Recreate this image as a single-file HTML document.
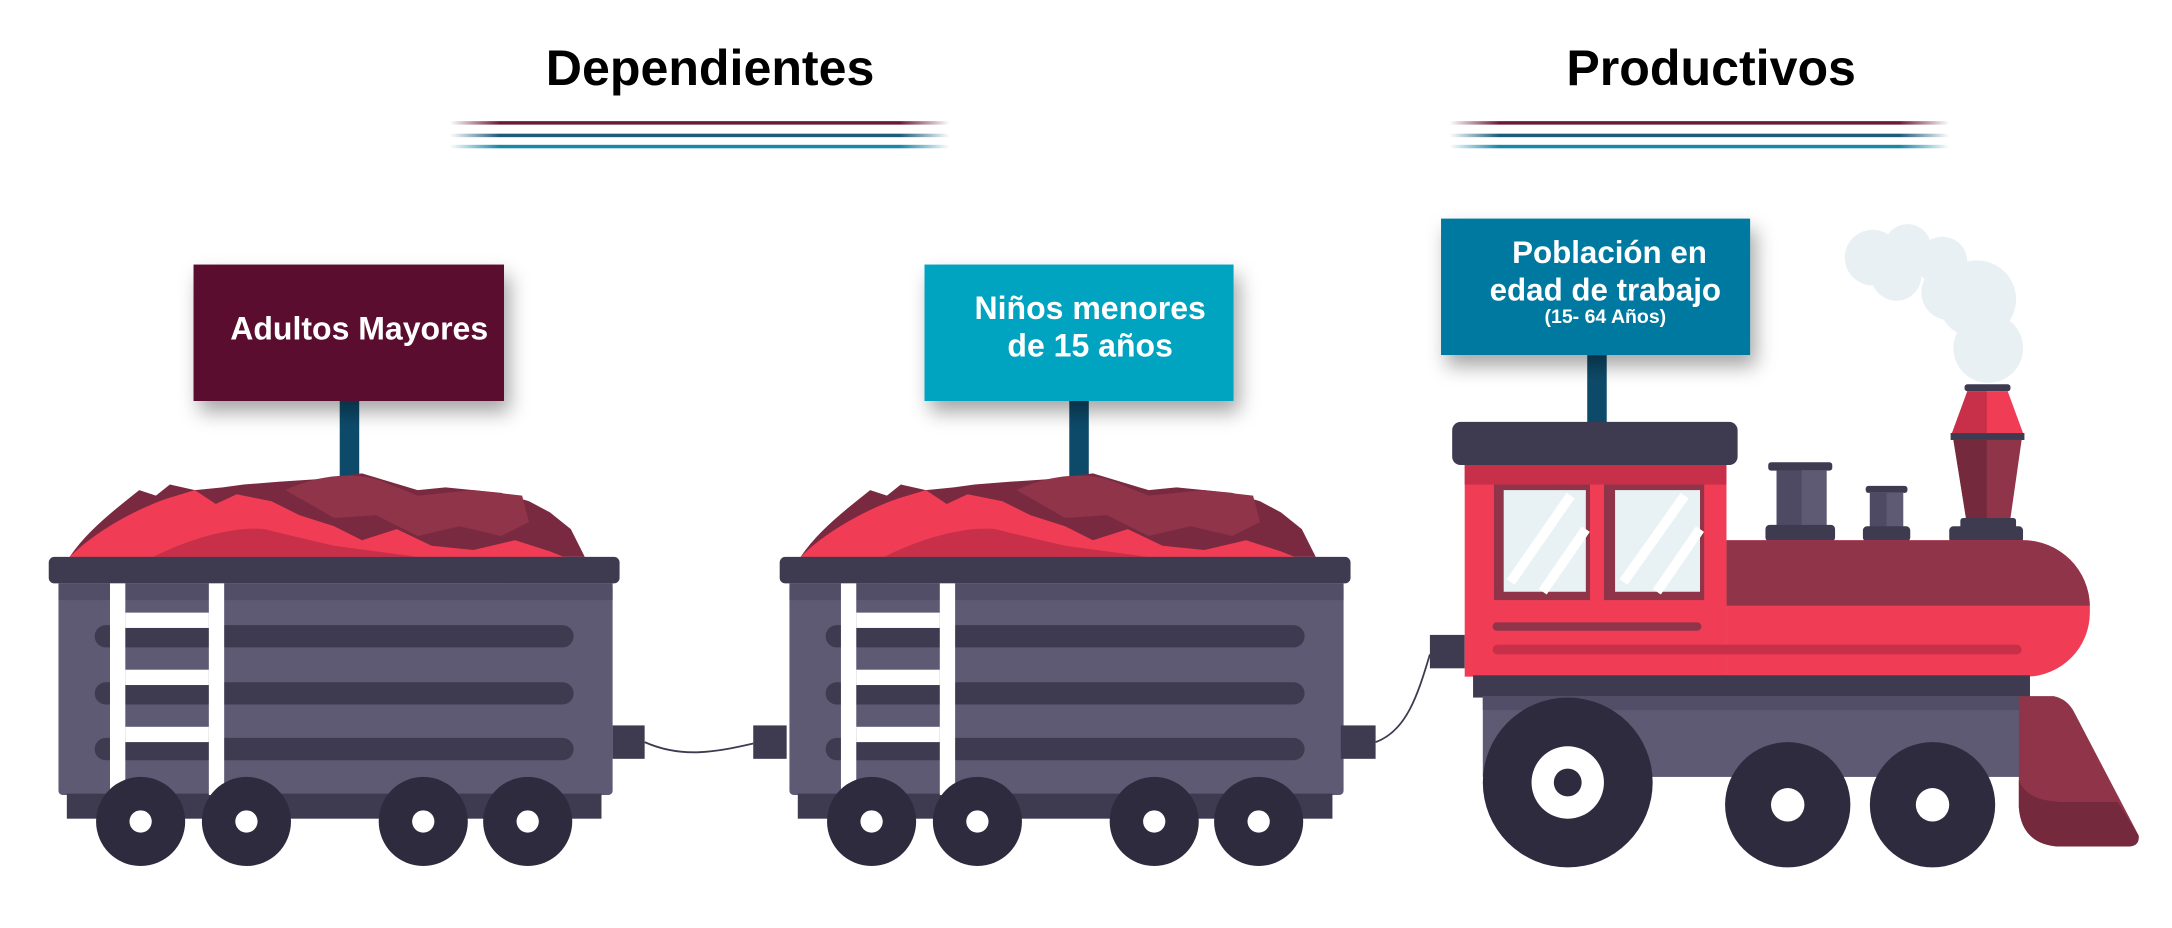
<!DOCTYPE html>
<html><head><meta charset="utf-8"><style>
html,body{margin:0;padding:0;background:#fff;width:2172px;height:928px;overflow:hidden}
svg{display:block}
text{font-family:"Liberation Sans","DejaVu Sans",sans-serif;font-weight:bold}
</style></head><body>
<svg width="2172" height="928" viewBox="0 0 1560 666.5" xmlns="http://www.w3.org/2000/svg">
<defs>
<filter id="sh" x="-20%" y="-20%" width="150%" height="160%"><feDropShadow dx="4" dy="8" stdDeviation="7" flood-color="#000" flood-opacity="0.35"/></filter>
<linearGradient id="g1" x1="0" x2="1"><stop offset="0" stop-color="#6b1a35" stop-opacity="0"/><stop offset="0.1" stop-color="#6b1a35"/><stop offset="0.9" stop-color="#6b1a35"/><stop offset="1" stop-color="#6b1a35" stop-opacity="0"/></linearGradient>
<linearGradient id="g2" x1="0" x2="1"><stop offset="0" stop-color="#1e5a7a" stop-opacity="0"/><stop offset="0.1" stop-color="#1e5a7a"/><stop offset="0.9" stop-color="#1e5a7a"/><stop offset="1" stop-color="#1e5a7a" stop-opacity="0"/></linearGradient>
<linearGradient id="g3" x1="0" x2="1"><stop offset="0" stop-color="#1a86a8" stop-opacity="0"/><stop offset="0.1" stop-color="#1a86a8"/><stop offset="0.9" stop-color="#1a86a8"/><stop offset="1" stop-color="#1a86a8" stop-opacity="0"/></linearGradient>
<g id="lines">
<rect x="0" y="87" width="359" height="2.5" fill="url(#g1)"/>
<rect x="0" y="96" width="359" height="2.5" fill="url(#g2)"/>
<rect x="0" y="104" width="359" height="2.5" fill="url(#g3)"/>
</g>
<g id="wagon">
<path d="M50,400 C60,385 75,372 90,360 L100,352 L112,356 L122,348 L140,352 L160,350 L175,348 L200,346 L230,344 L260,340 L280,346 L300,352 L320,350 L360,354 L380,360 L395,368 L410,380 L420,400 Z" fill="#7a2a40"/>
<path d="M205,352 C230,340 260,338 280,348 L300,356 L340,352 L375,356 L380,375 L360,385 L330,378 L300,385 L270,370 L240,372 Z" fill="#8f3449"/>
<path d="M50,400 C70,380 100,365 120,358 L140,352 L155,362 L170,355 L195,360 L215,370 L240,378 L260,388 L285,380 L310,392 L340,395 L370,388 L395,396 L405,400 Z" fill="#f03c55"/>
<path d="M110,400 C140,385 170,378 190,380 L210,385 L240,392 L270,396 L300,400 Z" fill="#c8304a"/>
<rect x="35" y="400" width="410" height="19" rx="4" fill="#3e3a50"/>
<rect x="42" y="419" width="398" height="152" rx="3" fill="#5e5a74"/>
<rect x="42" y="419" width="398" height="12" fill="#524e68"/>
<rect x="68" y="449" width="344" height="16" rx="8" fill="#3e3a50"/>
<rect x="68" y="490" width="344" height="16" rx="8" fill="#3e3a50"/>
<rect x="68" y="530" width="344" height="16" rx="8" fill="#3e3a50"/>
<rect x="48" y="570" width="384" height="18" fill="#3e3a50"/>
<rect x="79" y="419" width="11" height="152" fill="#fff"/>
<rect x="150" y="419" width="11" height="152" fill="#fff"/>
<rect x="90" y="440" width="60" height="11" fill="#fff"/>
<rect x="90" y="481" width="60" height="11" fill="#fff"/>
<rect x="90" y="522" width="60" height="11" fill="#fff"/>
<g fill="#2e2b3e"><circle cx="101" cy="590" r="32"/><circle cx="177" cy="590" r="32"/><circle cx="304" cy="590" r="32"/><circle cx="379" cy="590" r="32"/></g>
<g fill="#fff"><circle cx="101" cy="590" r="8"/><circle cx="177" cy="590" r="8"/><circle cx="304" cy="590" r="8"/><circle cx="379" cy="590" r="8"/></g>
</g>
</defs>
<rect width="1560" height="666.5" fill="#fff"/>
<text x="510" y="61" font-size="36" text-anchor="middle" fill="#000">Dependientes</text>
<text x="1229" y="61" font-size="36" text-anchor="middle" fill="#000">Productivos</text>
<use href="#lines" x="323"/>
<use href="#lines" x="1041"/>

<rect x="244" y="288" width="14" height="58" fill="#0d4a6a"/>
<rect x="768" y="288" width="14" height="58" fill="#0d4a6a"/>
<rect x="1140" y="255" width="14" height="50" fill="#0d4a6a"/>

<use href="#wagon"/>
<use href="#wagon" x="525"/>

<rect x="440" y="521" width="23" height="24" fill="#3e3a50"/>
<rect x="541" y="521" width="24" height="24" fill="#3e3a50"/>
<path d="M463,533 C490,545 515,540 541,534" stroke="#3e3a50" stroke-width="1.3" fill="none"/>
<rect x="963" y="521" width="25" height="24" fill="#3e3a50"/>
<rect x="1027" y="456" width="25" height="24" fill="#3e3a50"/>
<path d="M988,533 C1010,525 1018,500 1027,470" stroke="#3e3a50" stroke-width="1.3" fill="none"/>

<g fill="#e8f0f3">
<circle cx="1345" cy="185" r="20"/><circle cx="1370" cy="178" r="17"/><circle cx="1395" cy="188" r="18"/>
<circle cx="1362" cy="198" r="18"/><circle cx="1420" cy="215" r="28"/><circle cx="1428" cy="250" r="25"/>
<circle cx="1400" cy="210" r="20"/>
</g>
<rect x="1411" y="276" width="33" height="5" rx="2" fill="#3e3a50"/>
<path d="M1413,281 L1442,281 L1453,311 L1402,311 Z" fill="#f03c55"/>
<path d="M1413,281 L1427,281 L1427,311 L1402,311 Z" fill="#c8304a"/>
<rect x="1401" y="311" width="53" height="5" fill="#3e3a50"/>
<path d="M1403,316 L1452,316 L1444,372 L1412,372 Z" fill="#8f3449"/>
<path d="M1403,316 L1427,316 L1427,372 L1412,372 Z" fill="#742a3c"/>
<rect x="1408" y="372" width="40" height="8" rx="2" fill="#3e3a50"/>
<rect x="1400" y="378" width="53" height="12" rx="3" fill="#3e3a50"/>
<rect x="1270" y="332" width="46" height="6" rx="2" fill="#3e3a50"/>
<rect x="1276" y="338" width="36" height="42" fill="#5e5a74"/>
<rect x="1276" y="338" width="18" height="42" fill="#4e4a64"/>
<rect x="1268" y="377" width="50" height="12" rx="3" fill="#3e3a50"/>
<rect x="1340" y="349" width="30" height="5" rx="2" fill="#3e3a50"/>
<rect x="1343" y="354" width="24" height="26" fill="#5e5a74"/>
<rect x="1343" y="354" width="12" height="26" fill="#4e4a64"/>
<rect x="1338" y="378" width="34" height="11" rx="3" fill="#3e3a50"/>
<path d="M1240,388 L1453,388 A48,48 0 0 1 1501,436 L1501,440 A46,46 0 0 1 1455,486 L1240,486 Z" fill="#f03c55"/>
<path d="M1240,388 L1453,388 A48,48 0 0 1 1501,435 L1240,435 Z" fill="#8f3449"/>
<rect x="1052" y="333" width="188" height="153" fill="#f03c55"/>
<rect x="1052" y="333" width="188" height="15" fill="#c8304a"/>
<rect x="1073" y="348" width="69" height="83" fill="#8f3449"/>
<rect x="1152" y="348" width="72" height="83" fill="#8f3449"/>
<rect x="1080" y="352" width="59" height="73" fill="#e8f2f5"/>
<rect x="1160" y="352" width="61" height="73" fill="#e8f2f5"/>
<g stroke="#fff" stroke-width="7">
<line x1="1085" y1="418" x2="1128" y2="356"/><line x1="1108" y1="425" x2="1139" y2="380"/>
<line x1="1166" y1="418" x2="1210" y2="356"/><line x1="1190" y1="425" x2="1221" y2="380"/>
</g>
<rect x="1043" y="303" width="205" height="31" rx="6" fill="#3e3a50"/>
<rect x="1072" y="447" width="150" height="6" rx="3" fill="#8f3449"/>
<rect x="1072" y="463" width="380" height="7" rx="3.5" fill="#c8304a"/>
<rect x="1058" y="485" width="400" height="16" fill="#3e3a50"/>
<rect x="1065" y="500" width="387" height="58" fill="#5e5a74"/>
<rect x="1065" y="500" width="387" height="10" fill="#524e68"/>
<path d="M1450,500 L1475,500 Q1485,502 1490,512 L1536,600 Q1537,608 1528,608 L1478,608 Q1452,606 1450,580 Z" fill="#8f3449"/>
<path d="M1450,560 Q1455,575 1480,576 L1521,576 L1536,600 Q1537,608 1528,608 L1478,608 Q1452,606 1450,580 Z" fill="#742a3c"/>
<circle cx="1126" cy="562" r="61" fill="#2e2b3e"/>
<circle cx="1126" cy="562" r="26" fill="#fff"/>
<circle cx="1126" cy="562" r="10" fill="#2e2b3e"/>
<circle cx="1284" cy="578" r="45" fill="#2e2b3e"/>
<circle cx="1284" cy="578" r="12" fill="#fff"/>
<circle cx="1388" cy="578" r="45" fill="#2e2b3e"/>
<circle cx="1388" cy="578" r="12" fill="#fff"/>

<rect x="139" y="190" width="223" height="98" fill="#5a0a2e" filter="url(#sh)"/>
<text x="258" y="244" font-size="23" text-anchor="middle" fill="#fff">Adultos Mayores</text>
<rect x="664" y="190" width="222" height="98" fill="#00a3c0" filter="url(#sh)"/>
<text x="783" y="229" font-size="23" text-anchor="middle" fill="#fff">Niños menores</text>
<text x="783" y="256" font-size="23" text-anchor="middle" fill="#fff">de 15 años</text>
<rect x="1035" y="157" width="222" height="98" fill="#0079a0" filter="url(#sh)"/>
<text x="1156" y="189" font-size="22.5" text-anchor="middle" fill="#fff">Población en</text>
<text x="1153" y="216" font-size="22.5" text-anchor="middle" fill="#fff">edad de trabajo</text>
<text x="1153" y="232" font-size="14" text-anchor="middle" fill="#fff">(15- 64 Años)</text>
</svg>
</body></html>
